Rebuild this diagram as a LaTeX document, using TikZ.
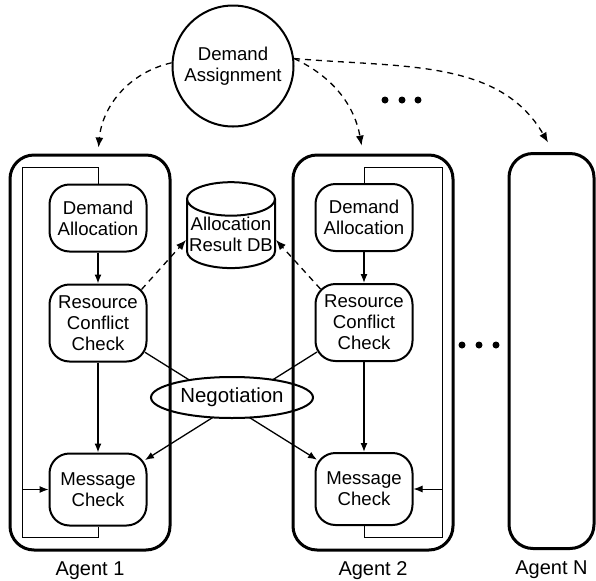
\documentclass[tikz,border=0pt]{standalone}
\usepackage{fontspec}
\setmainfont{Liberation Sans}
\usetikzlibrary{arrows.meta,positioning,shapes.geometric}
\tikzset{
  pbox/.style={draw, rounded corners=10pt, align=center, inner sep=0pt,
               line width=1pt, minimum width=48.5pt,
               font=\fontsize{9.3}{10.5}\selectfont},
  agentbox/.style={draw, rounded corners=12pt, line width=1.5pt,
                   minimum height=197.5pt, inner sep=0pt},
  alabel/.style={inner sep=0pt, font=\fontsize{10}{12}\selectfont},
  hub/.style={circle, draw, line width=1pt, minimum size=60.5pt, inner sep=0pt,
              align=center, font=\fontsize{9.3}{10.5}\selectfont},
  dbnode/.style={cylinder, shape border rotate=90, draw, line width=1pt, aspect=0.4,
                 minimum width=44pt, minimum height=41.5pt, inner sep=0pt,
                 align=center, font=\fontsize{9.3}{10.5}\selectfont},
  negnode/.style={ellipse, draw, fill=white, line width=1pt, minimum width=81pt,
                  minimum height=20.5pt, inner sep=0pt,
                  font=\fontsize{10.2}{12}\selectfont},
  flow/.style={-{Latex[length=4.5pt,width=3.5pt]}, line width=0.65pt},
  flowd/.style={-{Latex[length=5pt,width=4pt]}, line width=0.65pt,
                dash pattern=on 3pt off 2.5pt},
  loopline/.style={line width=0.5pt},
}
\begin{document}
\begin{tikzpicture}[x=0.5pt, y=0.5pt]
  \useasboundingbox (0,0) rectangle (596,-580);
  \node[hub] (hub) at (233,-66) {Demand\\Assignment};
  \node[dbnode] (db) at (231,-234) {Allocation\\Result DB};
  % agent 1 stack
  \node[pbox, minimum height=33.5pt] (daa) at (98,-218) {Demand\\Allocation};
  \node[pbox, minimum height=38.5pt, below=15.5pt of daa] (rcca) {Resource\\Conflict\\Check};
  \node[pbox, minimum height=36pt, below=45pt of rcca] (mca) {Message\\Check};
  % agent 2 stack
  \node[pbox, minimum height=33.5pt] (dab) at (364,-217.5) {Demand\\Allocation};
  \node[pbox, minimum height=38.5pt, below=15.5pt of dab] (rccb) {Resource\\Conflict\\Check};
  \node[pbox, minimum height=36pt, below=45pt of rccb] (mcb) {Message\\Check};
  \foreach \p/\q in {daa/rcca,rcca/mca,dab/rccb,rccb/mcb} \draw[flow] (\p)--(\q);
  % feedback loops
  \coordinate (lta) at (22,-167);
  \coordinate (lba) at (22,-537);
  \coordinate (ltb) at (442,-167);
  \coordinate (lbb) at (442,-537);
  \draw[loopline] (daa.north) |- (lta) -- (lba) -| (mca.south);
  \draw[loopline] (dab.north) |- (ltb) -- (lbb) -| (mcb.south);
  \draw[flow, line width=0.5pt] (lta |- mca.west) -- (mca.west);
  \draw[flow, line width=0.5pt] (ltb |- mcb.east) -- (mcb.east);
  % negotiation
  \draw[flow, shorten <=-1.5pt, shorten >=-1.5pt] (rcca) -- (mcb);
  \draw[flow, shorten <=-1.5pt, shorten >=-1.5pt] (rccb) -- (mca);
  \node[negnode] (neg) at (232,-397.5) {Negotiation};
  \draw[flowd] ([shift={(-3pt,-3pt)}]rcca.north east) -- ([yshift=-3pt]db.west);
  \draw[flowd] ([shift={(3pt,-3pt)}]rccb.north west) -- ([yshift=-3pt]db.east);
  % agents
  \node[agentbox, minimum width=80pt] (agenta) at (90,-352.5) {};
  \node[agentbox, minimum width=80pt] (agentb) at (373,-352.5) {};
  \node[agentbox, minimum width=42.5pt] (agentn) at (551.5,-351) {};
  \node[alabel, below=5pt of agenta] (lbla) {Agent 1};
  \node[alabel, below=5pt of agentb] (lblb) {Agent 2};
  \node[alabel, below=5pt of agentn] (lbln) {Agent N};
  % assignment
  \draw[flowd, shorten >=3pt] (hub.177) to[out=193, in=85] ([xshift=4pt]agenta.north);
  \draw[flowd, shorten >=4pt] (hub.7) to[out=-25, in=100] ([xshift=-5pt]agentb.north);
  \draw[flowd, shorten >=5.5pt] (hub.7) to[out=-5, in=120] ([xshift=1pt]agentn.north);
  \foreach \x in {385,402,418} \fill (\x,-100) circle (1.75pt);
  \foreach \x in {462,479,496} \fill (\x,-345) circle (1.75pt);
\end{tikzpicture}
\end{document}
